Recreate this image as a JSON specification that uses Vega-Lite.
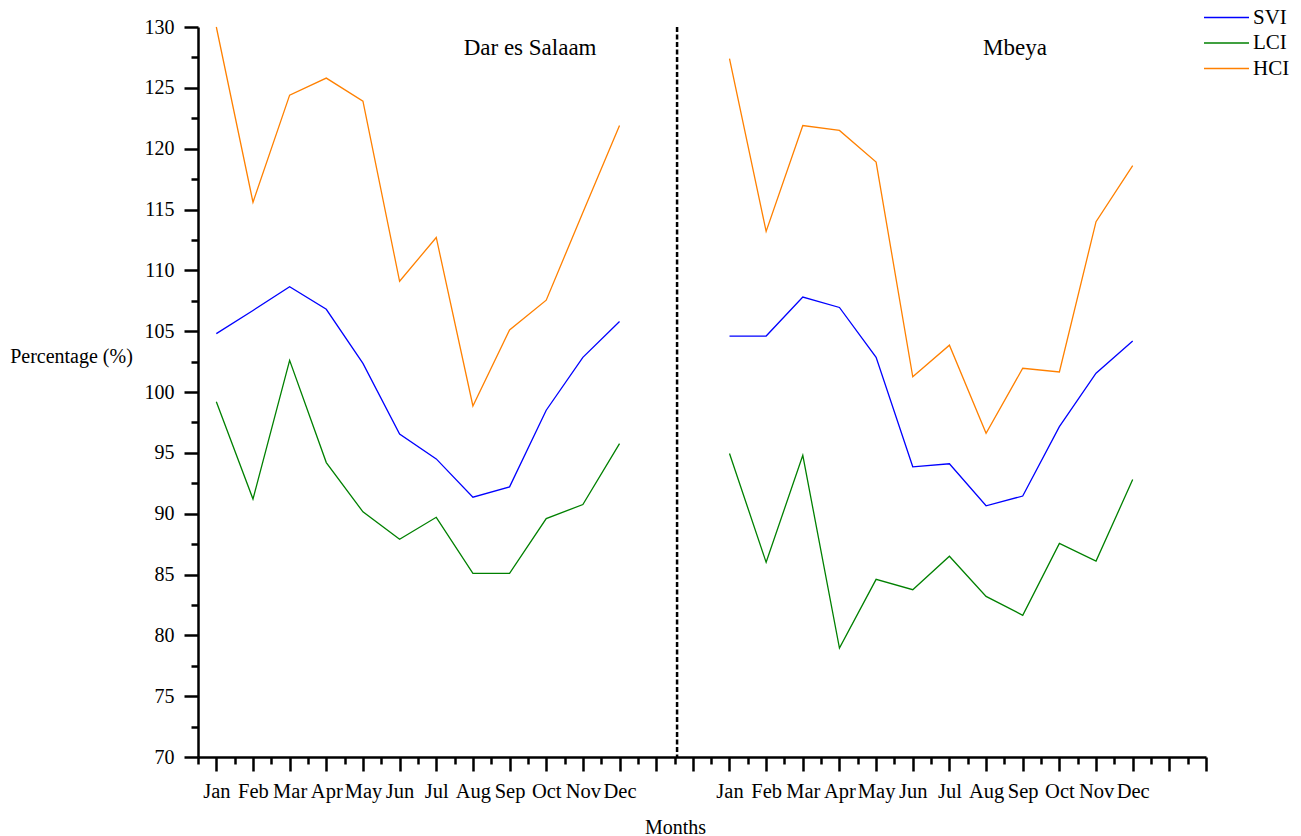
{
  "$schema": "https://vega.github.io/schema/vega-lite/v6.json",
  "width": 1008,
  "height": 730,
  "autosize": {"type": "none"},
  "padding": {"left": 198, "top": 27, "right": 95, "bottom": 79},
  "background": "white",
  "config": {
    "view": {"stroke": null},
    "font": "Liberation Serif",
    "axis": {
      "grid": false,
      "domainColor": "black",
      "domainWidth": 2.5,
      "tickColor": "black",
      "tickWidth": 2.5,
      "labelFont": "Liberation Serif",
      "labelFontSize": 20,
      "labelColor": "black",
      "titleFont": "Liberation Serif",
      "titleFontSize": 20,
      "titleFontWeight": "normal",
      "titleColor": "black",
      "labelOverlap": false,
      "labelFlush": false,
      "labelBound": false
    }
  },
  "data": {
    "values": [
      {"city": "Dar es Salaam", "month": "Jan", "m": 1, "index": "HCI", "value": 130.0},
      {"city": "Dar es Salaam", "month": "Feb", "m": 2, "index": "HCI", "value": 115.6},
      {"city": "Dar es Salaam", "month": "Mar", "m": 3, "index": "HCI", "value": 124.4},
      {"city": "Dar es Salaam", "month": "Apr", "m": 4, "index": "HCI", "value": 125.8},
      {"city": "Dar es Salaam", "month": "May", "m": 5, "index": "HCI", "value": 123.9},
      {"city": "Dar es Salaam", "month": "Jun", "m": 6, "index": "HCI", "value": 109.1},
      {"city": "Dar es Salaam", "month": "Jul", "m": 7, "index": "HCI", "value": 112.7},
      {"city": "Dar es Salaam", "month": "Aug", "m": 8, "index": "HCI", "value": 98.85},
      {"city": "Dar es Salaam", "month": "Sep", "m": 9, "index": "HCI", "value": 105.1},
      {"city": "Dar es Salaam", "month": "Oct", "m": 10, "index": "HCI", "value": 107.55},
      {"city": "Dar es Salaam", "month": "Nov", "m": 11, "index": "HCI", "value": 114.75},
      {"city": "Dar es Salaam", "month": "Dec", "m": 12, "index": "HCI", "value": 121.9},
      {"city": "Dar es Salaam", "month": "Jan", "m": 1, "index": "SVI", "value": 104.8},
      {"city": "Dar es Salaam", "month": "Feb", "m": 2, "index": "SVI", "value": 106.7},
      {"city": "Dar es Salaam", "month": "Mar", "m": 3, "index": "SVI", "value": 108.65},
      {"city": "Dar es Salaam", "month": "Apr", "m": 4, "index": "SVI", "value": 106.8},
      {"city": "Dar es Salaam", "month": "May", "m": 5, "index": "SVI", "value": 102.35},
      {"city": "Dar es Salaam", "month": "Jun", "m": 6, "index": "SVI", "value": 96.55},
      {"city": "Dar es Salaam", "month": "Jul", "m": 7, "index": "SVI", "value": 94.5},
      {"city": "Dar es Salaam", "month": "Aug", "m": 8, "index": "SVI", "value": 91.35},
      {"city": "Dar es Salaam", "month": "Sep", "m": 9, "index": "SVI", "value": 92.2},
      {"city": "Dar es Salaam", "month": "Oct", "m": 10, "index": "SVI", "value": 98.5},
      {"city": "Dar es Salaam", "month": "Nov", "m": 11, "index": "SVI", "value": 102.85},
      {"city": "Dar es Salaam", "month": "Dec", "m": 12, "index": "SVI", "value": 105.8},
      {"city": "Dar es Salaam", "month": "Jan", "m": 1, "index": "LCI", "value": 99.2},
      {"city": "Dar es Salaam", "month": "Feb", "m": 2, "index": "LCI", "value": 91.2},
      {"city": "Dar es Salaam", "month": "Mar", "m": 3, "index": "LCI", "value": 102.6},
      {"city": "Dar es Salaam", "month": "Apr", "m": 4, "index": "LCI", "value": 94.2},
      {"city": "Dar es Salaam", "month": "May", "m": 5, "index": "LCI", "value": 90.15},
      {"city": "Dar es Salaam", "month": "Jun", "m": 6, "index": "LCI", "value": 87.9},
      {"city": "Dar es Salaam", "month": "Jul", "m": 7, "index": "LCI", "value": 89.7},
      {"city": "Dar es Salaam", "month": "Aug", "m": 8, "index": "LCI", "value": 85.1},
      {"city": "Dar es Salaam", "month": "Sep", "m": 9, "index": "LCI", "value": 85.1},
      {"city": "Dar es Salaam", "month": "Oct", "m": 10, "index": "LCI", "value": 89.6},
      {"city": "Dar es Salaam", "month": "Nov", "m": 11, "index": "LCI", "value": 90.75},
      {"city": "Dar es Salaam", "month": "Dec", "m": 12, "index": "LCI", "value": 95.75},
      {"city": "Mbeya", "month": "Jan", "m": 1, "index": "HCI", "value": 127.4},
      {"city": "Mbeya", "month": "Feb", "m": 2, "index": "HCI", "value": 113.2},
      {"city": "Mbeya", "month": "Mar", "m": 3, "index": "HCI", "value": 121.9},
      {"city": "Mbeya", "month": "Apr", "m": 4, "index": "HCI", "value": 121.5},
      {"city": "Mbeya", "month": "May", "m": 5, "index": "HCI", "value": 118.9},
      {"city": "Mbeya", "month": "Jun", "m": 6, "index": "HCI", "value": 101.25},
      {"city": "Mbeya", "month": "Jul", "m": 7, "index": "HCI", "value": 103.85},
      {"city": "Mbeya", "month": "Aug", "m": 8, "index": "HCI", "value": 96.6},
      {"city": "Mbeya", "month": "Sep", "m": 9, "index": "HCI", "value": 101.95},
      {"city": "Mbeya", "month": "Oct", "m": 10, "index": "HCI", "value": 101.65},
      {"city": "Mbeya", "month": "Nov", "m": 11, "index": "HCI", "value": 114.0},
      {"city": "Mbeya", "month": "Dec", "m": 12, "index": "HCI", "value": 118.6},
      {"city": "Mbeya", "month": "Jan", "m": 1, "index": "SVI", "value": 104.6},
      {"city": "Mbeya", "month": "Feb", "m": 2, "index": "SVI", "value": 104.6},
      {"city": "Mbeya", "month": "Mar", "m": 3, "index": "SVI", "value": 107.8},
      {"city": "Mbeya", "month": "Apr", "m": 4, "index": "SVI", "value": 106.95},
      {"city": "Mbeya", "month": "May", "m": 5, "index": "SVI", "value": 102.85},
      {"city": "Mbeya", "month": "Jun", "m": 6, "index": "SVI", "value": 93.85},
      {"city": "Mbeya", "month": "Jul", "m": 7, "index": "SVI", "value": 94.1},
      {"city": "Mbeya", "month": "Aug", "m": 8, "index": "SVI", "value": 90.65},
      {"city": "Mbeya", "month": "Sep", "m": 9, "index": "SVI", "value": 91.45},
      {"city": "Mbeya", "month": "Oct", "m": 10, "index": "SVI", "value": 97.15},
      {"city": "Mbeya", "month": "Nov", "m": 11, "index": "SVI", "value": 101.55},
      {"city": "Mbeya", "month": "Dec", "m": 12, "index": "SVI", "value": 104.2},
      {"city": "Mbeya", "month": "Jan", "m": 1, "index": "LCI", "value": 94.95},
      {"city": "Mbeya", "month": "Feb", "m": 2, "index": "LCI", "value": 86.0},
      {"city": "Mbeya", "month": "Mar", "m": 3, "index": "LCI", "value": 94.8},
      {"city": "Mbeya", "month": "Apr", "m": 4, "index": "LCI", "value": 78.95},
      {"city": "Mbeya", "month": "May", "m": 5, "index": "LCI", "value": 84.6},
      {"city": "Mbeya", "month": "Jun", "m": 6, "index": "LCI", "value": 83.75},
      {"city": "Mbeya", "month": "Jul", "m": 7, "index": "LCI", "value": 86.5},
      {"city": "Mbeya", "month": "Aug", "m": 8, "index": "LCI", "value": 83.2},
      {"city": "Mbeya", "month": "Sep", "m": 9, "index": "LCI", "value": 81.65},
      {"city": "Mbeya", "month": "Oct", "m": 10, "index": "LCI", "value": 87.55},
      {"city": "Mbeya", "month": "Nov", "m": 11, "index": "LCI", "value": 86.1},
      {"city": "Mbeya", "month": "Dec", "m": 12, "index": "LCI", "value": 92.8}
    ]
  },
  "layer": [
    {
      "layer": [
        {
          "transform": [{"filter": "datum.city === 'Dar es Salaam'"}],
          "mark": {"type": "line", "strokeWidth": 1.3},
          "encoding": {
            "x": {
              "field": "m", "type": "quantitative",
              "scale": {"domain": [0.5, 28], "nice": false, "zero": false},
              "axis": {
                "title": "Months",
                "titleX": 477, "titleY": 76, "titleBaseline": "alphabetic", "titleAnchor": null, "titleAlign": "center",
                "tickCount": 200,
                "labelFontSize": 20.5,
                "values": [0.5, 1, 1.5, 2, 2.5, 3, 3.5, 4, 4.5, 5, 5.5, 6, 6.5, 7, 7.5, 8, 8.5, 9, 9.5, 10, 10.5, 11, 11.5, 12, 12.5, 13, 13.5, 14, 14.5, 15, 15.5, 16, 16.5, 17, 17.5, 18, 18.5, 19, 19.5, 20, 20.5, 21, 21.5, 22, 22.5, 23, 23.5, 24, 24.5, 25, 25.5, 26, 26.5, 27, 27.5, 28],
                "tickSize": {"condition": {"test": "datum.value % 1 === 0", "value": 14}, "value": 7},
                "labelPadding": 10,
                "labelExpr": "(datum.value % 1 === 0 && datum.value >= 1 && datum.value <= 12) ? ['Jan','Feb','Mar','Apr','May','Jun','Jul','Aug','Sep','Oct','Nov','Dec'][datum.value - 1] : ((datum.value % 1 === 0 && datum.value >= 15 && datum.value <= 26) ? ['Jan','Feb','Mar','Apr','May','Jun','Jul','Aug','Sep','Oct','Nov','Dec'][datum.value - 15] : '')"
              }
            },
            "y": {
              "field": "value", "type": "quantitative",
              "scale": {"domain": [70, 130], "nice": false, "zero": false},
              "axis": {
                "title": "Percentage (%)",
                "titleAngle": 0, "titleX": -127, "titleY": 335, "titleBaseline": "alphabetic", "titleAlign": "center", "titleAnchor": null,
                "tickCount": 200,
                "values": [70, 72.5, 75, 77.5, 80, 82.5, 85, 87.5, 90, 92.5, 95, 97.5, 100, 102.5, 105, 107.5, 110, 112.5, 115, 117.5, 120, 122.5, 125, 127.5, 130],
                "tickSize": {"condition": {"test": "datum.value % 5 === 0", "value": 14}, "value": 7},
                "labelPadding": 10,
                "labelExpr": "datum.value % 5 === 0 ? format(datum.value, 'd') : ''"
              }
            },
            "color": {
              "field": "index", "type": "nominal",
              "scale": {"domain": ["SVI", "LCI", "HCI"], "range": ["#0000FF", "#008000", "#FF8000"]},
              "legend": {
                "orient": "none", "legendX": 1018, "legendY": -20, "title": null,
                "symbolType": "M-3,0H3", "symbolSize": 225, "symbolStrokeWidth": 1.3,
                "labelFont": "Liberation Serif", "labelFontSize": 21, "labelColor": "black",
                "labelOffset": 16, "rowPadding": 3.5, "padding": 0
              }
            },
            "detail": {"field": "city"}
          }
        },
        {
          "data": {"values": [{}]},
          "mark": {"type": "rule", "strokeDash": [5, 2.5], "strokeWidth": 2.5, "color": "black"},
          "encoding": {"x": {"datum": 13.57, "type": "quantitative"}}
        },
        {
          "data": {"values": [{}]},
          "mark": {"type": "text", "text": "Dar es Salaam", "font": "Liberation Serif", "fontSize": 23, "align": "center", "baseline": "alphabetic", "color": "black"},
          "encoding": {"x": {"datum": 9.56, "type": "quantitative"}, "y": {"datum": 127.7, "type": "quantitative"}}
        },
        {
          "data": {"values": [{}]},
          "mark": {"type": "text", "text": "Mbeya", "font": "Liberation Serif", "fontSize": 23, "align": "center", "baseline": "alphabetic", "color": "black"},
          "encoding": {"x": {"datum": 22.79, "type": "quantitative"}, "y": {"datum": 127.7, "type": "quantitative"}}
        }
      ]
    },
    {
      "transform": [{"filter": "datum.city === 'Mbeya'"}],
      "mark": {"type": "line", "strokeWidth": 1.3},
      "encoding": {
        "x": {
          "field": "m", "type": "quantitative",
          "scale": {"domain": [-13.5, 14], "nice": false, "zero": false},
          "axis": null
        },
        "y": {
          "field": "value", "type": "quantitative",
          "scale": {"domain": [70, 130], "nice": false, "zero": false}
        },
        "color": {
          "field": "index", "type": "nominal",
          "scale": {"domain": ["SVI", "LCI", "HCI"], "range": ["#0000FF", "#008000", "#FF8000"]}
        },
        "detail": {"field": "city"}
      }
    }
  ],
  "resolve": {"scale": {"x": "independent"}}
}
